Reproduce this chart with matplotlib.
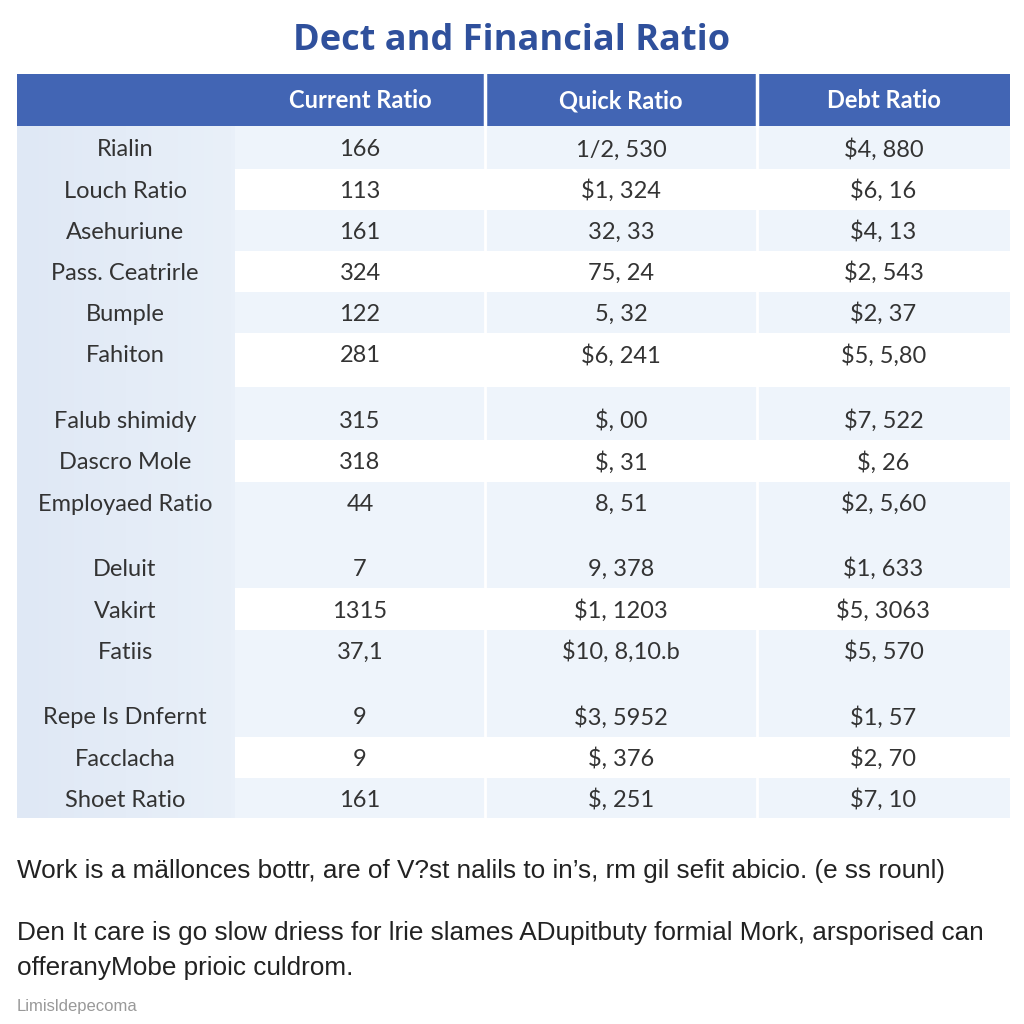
import matplotlib
matplotlib.use("Agg")
import matplotlib.pyplot as plt
import numpy as np
from matplotlib.colors import LinearSegmentedColormap

# table content
columns = ["Current Ratio", "Quick Ratio", "Debt Ratio"]
row_labels = ["Rialin", "Louch Ratio", "Asehuriune", "Pass. Ceatrirle", "Bumple", "Fahiton",
              "Falub shimidy", "Dascro Mole", "Employaed Ratio",
              "Deluit", "Vakirt", "Fatiis",
              "Repe Is Dnfernt", "Facclacha", "Shoet Ratio"]
current = ["166", "113", "161", "324", "122", "281",
           "315", "318", "44",
           "7", "1315", "37,1",
           "9", "9", "161"]
quick = ["1/2, 530", "$1, 324", "32, 33", "75, 24", "5, 32", "$6, 241",
         "$, 00", "$, 31", "8, 51",
         "9, 378", "$1, 1203", "$10, 8,10.b",
         "$3, 5952", "$, 376", "$, 251"]
debt = ["$4, 880", "$6, 16", "$4, 13", "$2, 543", "$2, 37", "$5, 5,80",
        "$7, 522", "$, 26", "$2, 5,60",
        "$1, 633", "$5, 3063", "$5, 570",
        "$1, 57", "$2, 70", "$7, 10"]
group_sizes = [6, 3, 3, 3]

title = "Dect and Financial Ratio"
note1 = "Work is a mällonces bottr, are of V?st nalils to in\u2019s, rm gil sefit abicio. (e ss rounl)"
note2 = "Den It care is go slow driess for lrie slames ADupitbuty formial Mork, arsporised can\nofferanyMobe prioic culdrom."
footer = "Limisldepecoma"

# colours
blue_head = "#4265b4"
blue_title = "#2f509c"
shade = "#eef4fb"
txt = "#333333"

fig = plt.figure(figsize=(10.24, 10.24), dpi=100)
ax = fig.add_axes([0, 0, 1, 1])
ax.set_xlim(0, 1024)
ax.set_ylim(1024, 0)
ax.axis("off")

# layout
left, right = 17, 1010
col_edges = [17, 235, 485, 757, 1010]
head_top, head_bot = 74, 126
pitch, gap = 41.2, 24.5

# row centres
ys = []
i = 0
for g, n in enumerate(group_sizes):
    for k in range(n):
        ys.append(148 + pitch * i + gap * g)
        i += 1
shaded = []
for n in group_sizes:
    shaded += [k % 2 == 0 for k in range(n)]

# row bands
bounds = [head_bot] + [(ys[j] + ys[j + 1]) / 2 for j in range(len(ys) - 1)] + [ys[-1] + 20]
for j in range(len(ys)):
    if shaded[j]:
        ax.add_patch(plt.Rectangle((col_edges[1], bounds[j]), right - col_edges[1],
                                   bounds[j + 1] - bounds[j], color=shade, lw=0))

# first column with a soft gradient
grad = np.linspace(0, 1, 50).reshape(1, -1)
cm = LinearSegmentedColormap.from_list("fc", ["#dfe8f5", "#e9f0f9"])
ax.imshow(grad, cmap=cm, extent=(col_edges[0], col_edges[1], bounds[-1], head_bot),
          aspect="auto", zorder=1)

# faint column separators in body
for x in col_edges[2:4]:
    ax.plot([x, x], [head_bot, bounds[-1]], color="white", lw=2, zorder=2)

# header
ax.add_patch(plt.Rectangle((left, head_top), right - left, head_bot - head_top,
                           color=blue_head, lw=0, zorder=3))
for x in col_edges[2:4]:
    ax.plot([x, x], [head_top, head_bot], color="white", lw=2.5, zorder=4)
for c, name in enumerate(columns):
    cx = (col_edges[c + 1] + col_edges[c + 2]) / 2
    ax.text(cx, 108, name, color="white", fontsize=17,
            fontweight="bold", family="Lato", ha="center", va="baseline", zorder=5)

# body text
centres = [(col_edges[c] + col_edges[c + 1]) / 2 for c in range(4)]
centres[0] = 125
for j, y in enumerate(ys):
    for c, val in enumerate([row_labels[j], current[j], quick[j], debt[j]]):
        ax.text(centres[c], y + 8.5, val, color=txt, fontsize=17, family="Lato",
                ha="center", va="baseline", zorder=5)

# title
ax.text(512, 50, title, color=blue_title, fontsize=26, fontweight="bold",
        family="Open Sans", ha="center", va="baseline")

# notes
ax.text(17, 878, note1, color="#222222", fontsize=18.8, family="Liberation Sans",
        ha="left", va="baseline")
ax.text(17, 940, note2.split("\n")[0], color="#222222", fontsize=18.8,
        family="Liberation Sans", ha="left", va="baseline")
ax.text(17, 975, note2.split("\n")[1], color="#222222", fontsize=18.8,
        family="Liberation Sans", ha="left", va="baseline")
ax.text(17, 1011, footer, color="#999999", fontsize=12, family="Liberation Sans",
        ha="left", va="baseline")

fig.savefig("out.png", dpi=100, facecolor="white")
